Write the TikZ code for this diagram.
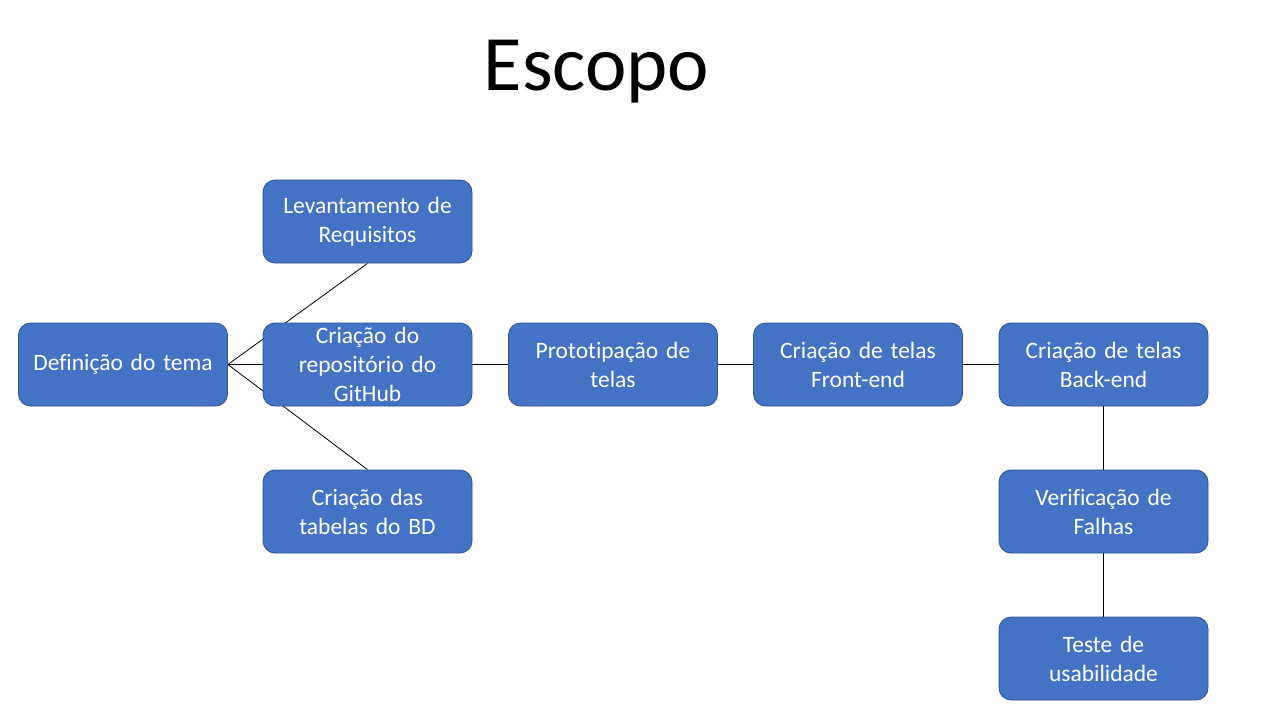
\documentclass[tikz,border=0pt]{standalone}
\usepackage{fontspec}
\setmainfont{Carlito}[Ligatures={NoCommon}]
\usetikzlibrary{backgrounds}
\definecolor{boxfill}{HTML}{4472C4}
\definecolor{boxedge}{HTML}{2F528F}
\begin{document}
\begin{tikzpicture}[x=1pt,y=-1pt,
  box/.style={draw=boxedge, line width=0.8pt, fill=boxfill, rounded corners=12pt,
    minimum width=209pt, minimum height=83pt, text width=205pt, align=center,
    text=white, font=\fontsize{23.5}{29}\selectfont, inner sep=0pt},
  link/.style={draw=black, line width=0.8pt}]
\useasboundingbox (0,0) rectangle (1280,720);
\node[font=\fontsize{78.5}{86}\selectfont] (title) at (596.5,71.5) {Escopo};
\node[box] (def) at (123,364.5) {Definição do tema};
\node[box] (lev) at (367.5,221.5) {Levantamento de\\Requisitos};
\node[box] (rep) at (367.5,364.5) {Criação do\\repositório do\\GitHub};
\node[box] (tab) at (367.5,511.5) {Criação das\\tabelas do BD};
\node[box] (pro) at (613,364.5) {Prototipação de\\telas};
\node[box] (fro) at (858,364.5) {Criação de telas\\Front-end};
\node[box] (bac) at (1103.5,364.5) {Criação de telas\\Back-end};
\node[box] (ver) at (1103.5,511.5) {Verificação de\\Falhas};
\node[box] (tes) at (1103.5,658.5) {Teste de\\usabilidade};
\begin{scope}[on background layer]
\fill[white] (0,0) rectangle (1280,720);
\draw[link] (def.east) -- (lev.south);
\draw[link] (def.east) -- (rep.west);
\draw[link] (def.east) -- (tab.north);
\end{scope}
\draw[link] (rep.east) -- (pro.west);
\draw[link] (pro.east) -- (fro.west);
\draw[link] (fro.east) -- (bac.west);
\draw[link] (bac.south) -- (ver.north);
\draw[link] (ver.south) -- (tes.north);
\end{tikzpicture}
\end{document}
